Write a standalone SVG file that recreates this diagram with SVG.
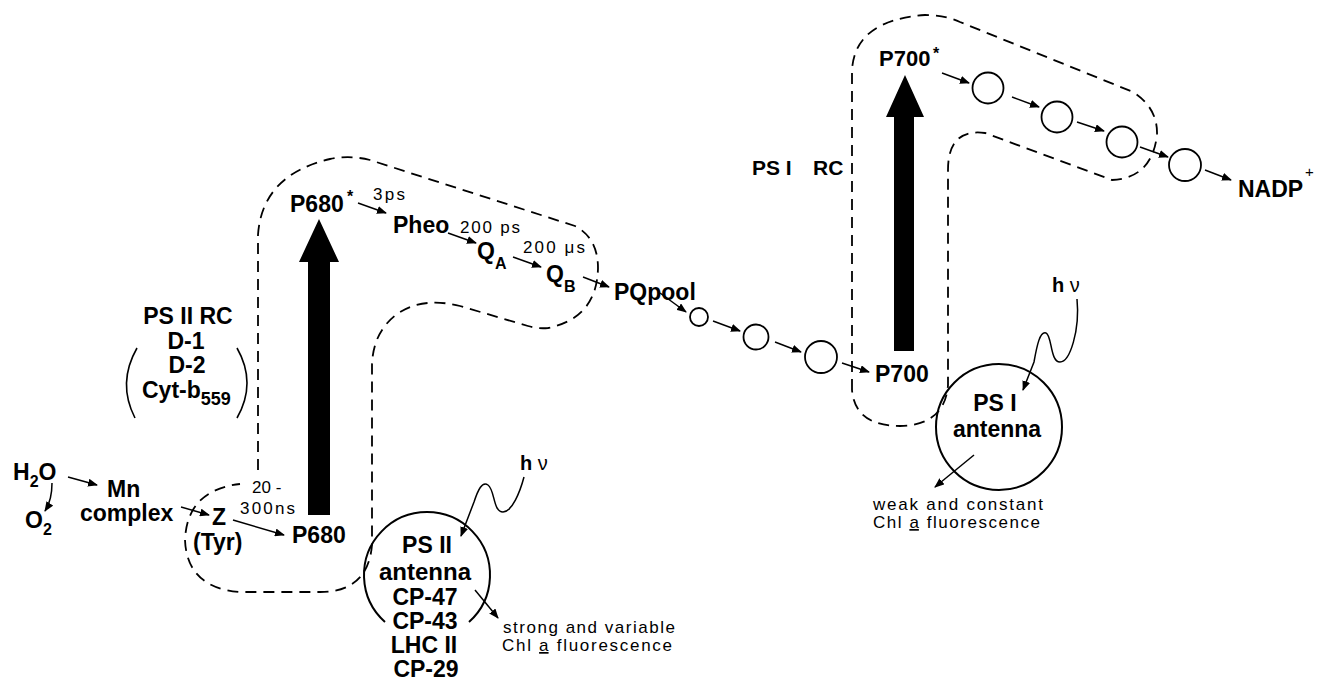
<svg xmlns="http://www.w3.org/2000/svg" width="1319" height="680" viewBox="0 0 1319 680">
<defs>
<marker id="ah" markerUnits="userSpaceOnUse" markerWidth="10" markerHeight="8" refX="9" refY="4" orient="auto">
<path d="M0,0 L10,4 L0,8 z" fill="#000"/>
</marker>
<style>
.b{font-family:"Liberation Sans",Arial,sans-serif;font-weight:bold;font-size:23px;fill:#000}
.s{font-family:"Liberation Sans",Arial,sans-serif;font-size:17px;fill:#000}
.sub{font-size:16px}
.dash{fill:none;stroke:#000;stroke-width:1.8;stroke-dasharray:11 7}
.ar{fill:none;stroke:#000;stroke-width:1.5;marker-end:url(#ah)}
.c{fill:#fff;stroke:#000;stroke-width:1.8}
.ant{fill:none;stroke:#000;stroke-width:2}
.thick{fill:#000}
</style>
</defs>
<rect width="1319" height="680" fill="#fff"/>

<g id="ps2-rc-loop">
<path class="dash" d="M258,470 L258,235 Q262,175 330,159 Q350,155 370,160 L575,226 Q598,238 598,268 Q597,318 548,328 Q538,329 528,326 L460,306 Q425,297 400,312 Q373,330 372,365 L372,545 Q368,592 320,592 L240,592 Q187,588 185,540 Q187,490 240,484"/>
</g>
<g id="ps1-rc-loop">
<path class="dash" d="M852,390 L852,70 Q855,20 925,15 Q945,15 960,22 L1133,92 Q1158,108 1157,135 Q1152,178 1112,180 L985,133 Q948,128 948,170 L948,385 Q945,425 900,426 Q855,426 852,390"/>
</g>

<g id="connectors">
<line class="ar" x1="68" y1="477" x2="97" y2="485"/>
<path class="ar" d="M52,483 Q52,500 45,511"/>
<line class="ar" x1="181" y1="507" x2="209" y2="515"/>
<line class="ar" x1="233" y1="520" x2="284" y2="535"/>
<line class="ar" x1="358" y1="203" x2="386" y2="213"/>
<line class="ar" x1="448" y1="233" x2="476" y2="243"/>
<line class="ar" x1="513" y1="257" x2="541" y2="267"/>
<line class="ar" x1="583" y1="277" x2="609" y2="287"/>
<line class="ar" x1="660" y1="293" x2="686" y2="312"/>
<line class="ar" x1="713" y1="321" x2="740" y2="331"/>
<line class="ar" x1="775" y1="342" x2="801" y2="352"/>
<line class="ar" x1="842" y1="363" x2="869" y2="372"/>
<line class="ar" x1="942" y1="73" x2="969" y2="83"/>
<line class="ar" x1="1012" y1="97" x2="1039" y2="107"/>
<line class="ar" x1="1077" y1="122" x2="1104" y2="131"/>
<line class="ar" x1="1140" y1="147" x2="1168" y2="157"/>
<line class="ar" x1="1205" y1="170" x2="1231" y2="180"/>
<path class="ar" d="M524,477 C520,492 512,512 503,512 C493,512 495,490 488,485 C482,481 478,490 474,502 L461,536"/>
<path class="ar" d="M1077,299 C1080,330 1070,362 1060,362 C1050,362 1052,335 1046,333 C1040,331 1037,345 1034,362 L1023,390"/>
<line class="ar" x1="475" y1="590" x2="498" y2="618"/>
<line class="ar" x1="974" y1="455" x2="935" y2="487"/>
</g>

<g id="thick-arrows">
<polygon class="thick" points="319,219 339,262 330,262 330,515 308,515 308,262 299,262"/>
<polygon class="thick" points="905,75 924,117 914,117 914,351 894,351 894,117 886,117"/>
</g>

<g id="water">
<text class="b" x="13" y="480">H<tspan class="sub" dy="7">2</tspan><tspan dy="-7">O</tspan></text>
<text class="b" x="25" y="528">O<tspan class="sub" dy="7">2</tspan></text>
</g>
<g id="mn-complex">
<text class="b" x="107" y="497">Mn</text>
<text class="b" x="80" y="521">complex</text>
</g>
<g id="z-tyr">
<text class="b" x="212" y="525">Z</text>
<text class="b" x="193" y="550">(Tyr)</text>
</g>
<g id="time-z">
<text class="s" x="252" y="493">20 -</text>
<text class="s" x="240" y="514" textLength="55">300ns</text>
</g>
<g id="p680">
<text class="b" x="292" y="543">P680</text>
</g>
<g id="p680star">
<text class="b" x="290" y="212">P680</text>
<text class="b" x="347" y="202" style="font-size:16px">*</text>
<text class="s" x="373" y="200" textLength="32">3ps</text>
</g>
<g id="pheo">
<text class="b" x="393" y="233">Pheo</text>
<text class="s" x="460" y="233" textLength="60">200 ps</text>
</g>
<g id="qa">
<text class="b" x="477" y="259">Q<tspan class="sub" dy="10">A</tspan></text>
<text class="s" x="523" y="253" textLength="62">200 μs</text>
</g>
<g id="qb">
<text class="b" x="546" y="282">Q<tspan class="sub" dy="10">B</tspan></text>
</g>
<g id="pqpool">
<text class="b" x="614" y="300">PQpool</text>
</g>
<g id="carriers-mid">
<circle class="c" cx="699" cy="317" r="9"/>
<circle class="c" cx="756" cy="337" r="12.5"/>
<circle class="c" cx="821" cy="357" r="16"/>
</g>
<g id="p700">
<text class="b" x="875" y="382">P700</text>
</g>
<g id="p700star">
<text class="b" x="879" y="66" style="font-size:22px">P700</text>
<text class="b" x="933" y="59" style="font-size:16px">*</text>
</g>
<g id="carriers-ps1">
<circle class="c" cx="988" cy="88" r="15.5"/>
<circle class="c" cx="1057" cy="117" r="15.5"/>
<circle class="c" cx="1122" cy="142" r="15.5"/>
<circle class="c" cx="1185" cy="165" r="16"/>
</g>
<g id="nadp">
<text class="b" x="1238" y="197">NADP</text>
<text class="s" x="1305" y="177" style="font-size:15px">+</text>
</g>
<g id="ps1-rc-label">
<text class="b" x="752" y="175" style="font-size:21px">PS I</text>
<text class="b" x="813" y="175" style="font-size:21px">RC</text>
</g>
<g id="ps2-rc-label">
<text class="b" x="188" y="324" text-anchor="middle">PS II RC</text>
<text class="b" x="186" y="349" text-anchor="middle">D-1</text>
<text class="b" x="187" y="373" text-anchor="middle">D-2</text>
<text class="b" x="142" y="398">Cyt-b<tspan class="sub" dy="7" style="font-size:18px">559</tspan></text>
<path class="ant" style="stroke-width:1.6" d="M137,348 Q117,383 135,418"/>
<path class="ant" style="stroke-width:1.6" d="M237,348 Q257,383 237,418"/>
</g>
<g id="ps2-antenna">
<path class="ant" d="M385,622 A63 63 0 1 1 469,622"/>
<text class="b" x="427" y="553" text-anchor="middle">PS II</text>
<text class="b" x="425" y="580" text-anchor="middle" style="font-size:24px">antenna</text>
<text class="b" x="425" y="605" text-anchor="middle">CP-47</text>
<text class="b" x="425" y="629" text-anchor="middle">CP-43</text>
<text class="b" x="424" y="653" text-anchor="middle">LHC II</text>
<text class="b" x="426" y="677" text-anchor="middle">CP-29</text>
</g>
<g id="hv-ps2">
<text class="b" x="520" y="470" style="font-size:20px">h<tspan style="font-weight:normal"> ν</tspan></text>
</g>
<g id="ps2-fluor">
<text class="s" x="503" y="633" textLength="172">strong and variable</text>
<text class="s" x="502" y="651" textLength="170">Chl <tspan text-decoration="underline">a</tspan> fluorescence</text>
</g>
<g id="ps1-antenna">
<circle class="ant" cx="999" cy="427" r="63" fill="none"/>
<text class="b" x="995" y="411" text-anchor="middle">PS I</text>
<text class="b" x="997" y="437" text-anchor="middle">antenna</text>
</g>
<g id="hv-ps1">
<text class="b" x="1052" y="292" style="font-size:20px">h<tspan style="font-weight:normal"> ν</tspan></text>
</g>
<g id="ps1-fluor">
<text class="s" x="873" y="510" textLength="170">weak and constant</text>
<text class="s" x="873" y="528" textLength="167">Chl <tspan text-decoration="underline">a</tspan> fluorescence</text>
</g>
</svg>
